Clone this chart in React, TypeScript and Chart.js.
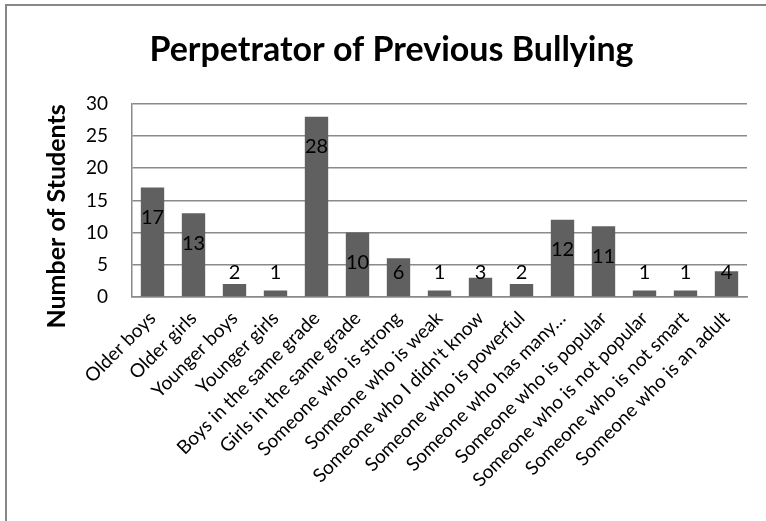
import React, { useEffect, useRef } from 'react';
import { Chart, registerables } from 'chart.js';

Chart.register(...registerables);

const categories = [
  'Older boys',
  'Older girls',
  'Younger boys',
  'Younger girls',
  'Boys in the same grade',
  'Girls in the same grade',
  'Someone who is strong',
  'Someone who is weak',
  "Someone who I didn't know",
  'Someone who is powerful',
  'Someone who has many…',
  'Someone who is popular',
  'Someone who is not popular',
  'Someone who is not smart',
  'Someone who is an adult',
];

const students = [17, 13, 2, 1, 28, 10, 6, 1, 3, 2, 12, 11, 1, 1, 4];

const chartTitle = 'Perpetrator of Previous Bullying';
const yAxisTitle = 'Number of Students';
const yMax = 30;
const yStep = 5;

const FONT = 'Lato, "Open Sans", sans-serif';
const GRID = '#8a8a8a';
const BAR = '#606060';

// Value labels sit just inside the top of each bar, but never lower than a
// fixed distance above the axis, so short bars get them above the bar.
const valueLabels = {
  id: 'valueLabels',
  afterDatasetsDraw(chart: any) {
    const ctx = chart.ctx as CanvasRenderingContext2D;
    const meta = chart.getDatasetMeta(0);
    ctx.save();
    ctx.font = `20px ${FONT}`;
    ctx.fillStyle = '#000000';
    ctx.textAlign = 'center';
    ctx.textBaseline = 'middle';
    meta.data.forEach((bar: any, i: number) => {
      const { x, y, base } = bar.getProps(['x', 'y', 'base'], true);
      const ly = Math.min(y + 30, base - 24);
      ctx.fillText(String(students[i]), x, ly);
    });
    ctx.restore();
  },
};

// Vertical axis title, set a little below the middle of the plot area.
const yTitle = {
  id: 'yTitle',
  afterDraw(chart: any) {
    const ctx = chart.ctx as CanvasRenderingContext2D;
    const area = chart.chartArea;
    const cy = (area.top + area.bottom) / 2 + 16;
    ctx.save();
    ctx.translate(57, cy);
    ctx.rotate(-Math.PI / 2);
    ctx.font = `bold 25px ${FONT}`;
    ctx.fillStyle = '#000000';
    ctx.textAlign = 'center';
    ctx.textBaseline = 'middle';
    ctx.fillText(yAxisTitle, 0, 0);
    ctx.restore();
  },
};

export default function App() {
  const canvasRef = useRef<HTMLCanvasElement | null>(null);

  useEffect(() => {
    const canvas = canvasRef.current;
    if (!canvas) return;
    const chart = new Chart(canvas, {
      type: 'bar',
      data: {
        labels: categories,
        datasets: [
          {
            data: students,
            backgroundColor: BAR,
            borderWidth: 0,
            barPercentage: 0.57,
            categoryPercentage: 1,
          },
        ],
      },
      options: {
        responsive: false,
        animation: false,
        devicePixelRatio: 1,
        layout: { padding: { left: 36, right: 19, top: 0, bottom: 0 } },
        plugins: {
          legend: { display: false },
          tooltip: { enabled: false },
          title: {
            display: true,
            text: chartTitle,
            color: '#000000',
            font: { family: FONT, size: 34, weight: 'bold', lineHeight: 1.2 },
            padding: { top: 30, bottom: 33 },
          },
        },
        scales: {
          x: {
            grid: { display: false },
            border: { display: true, color: GRID, width: 1.5 },
            ticks: {
              color: '#000000',
              font: { family: FONT, size: 19 },
              maxRotation: 45,
              minRotation: 45,
              autoSkip: false,
              padding: 2,
            },
            afterFit: (scale: any) => {
              scale.height = 224;
            },
          },
          y: {
            min: 0,
            max: yMax,
            ticks: {
              stepSize: yStep,
              color: '#000000',
              font: { family: FONT, size: 19 },
              padding: 24,
            },
            grid: { color: GRID, lineWidth: 1.5, drawTicks: false },
            border: { display: true, color: GRID, width: 1.5 },
            afterFit: (scale: any) => {
              scale.width = 96;
            },
          },
        },
      },
      plugins: [valueLabels, yTitle],
    });
    return () => chart.destroy();
  }, []);

  return (
    <div
      style={{
        position: 'absolute',
        left: 0,
        top: 0,
        width: 766,
        height: 521,
        overflow: 'hidden',
        background: '#ffffff',
      }}
    >
      <div
        style={{
          position: 'absolute',
          left: 5,
          top: 4,
          width: 900,
          height: 700,
          borderLeft: '2px solid #878787',
          borderTop: '2px solid #878787',
        }}
      />
      <canvas
        ref={canvasRef}
        width={766}
        height={521}
        style={{ position: 'absolute', left: 0, top: 0, width: 766, height: 521 }}
      />
    </div>
  );
}
